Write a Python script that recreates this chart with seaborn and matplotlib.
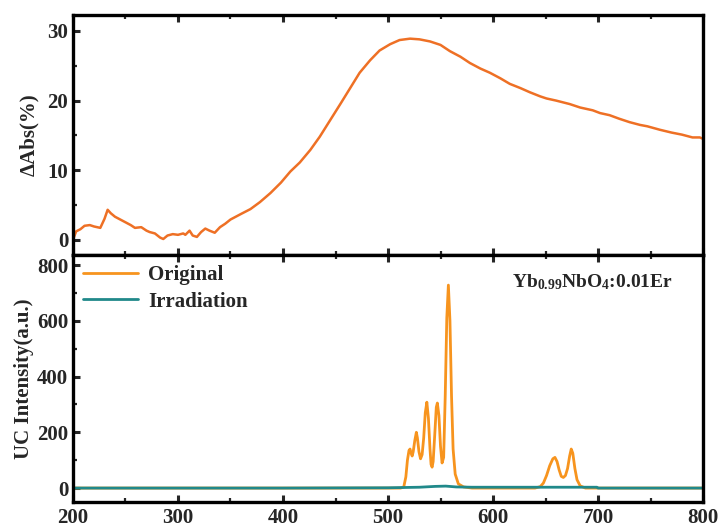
import numpy as np
import pandas as pd
import matplotlib
matplotlib.use("Agg")
import matplotlib.pyplot as plt
from matplotlib.ticker import MultipleLocator
import seaborn as sns

# ---- data ----
abs_wl = [200, 203, 207, 211, 216, 220, 226, 230, 233, 236, 240, 245, 250, 255, 259, 265,
          270, 273, 278, 283, 286, 290, 295, 300, 305, 307, 311, 314, 318, 322, 326, 330,
          335, 340, 345, 350, 360, 369, 378, 388, 398, 407, 416, 426, 435, 445, 455, 464,
          473, 483, 492, 502, 511, 521, 530, 540, 550, 559, 569, 578, 588, 597, 607, 616,
          626, 635, 645, 651, 660, 673, 683, 695, 702, 711, 720, 730, 740, 747, 759, 770,
          780, 790, 797, 800]
abs_val = [0.0, 1.2, 1.5, 2.0, 2.1, 1.9, 1.7, 3.0, 4.3, 3.8, 3.3, 2.9, 2.5, 2.1, 1.7, 1.8,
           1.3, 1.1, 0.9, 0.3, 0.1, 0.6, 0.8, 0.7, 0.9, 0.7, 1.3, 0.6, 0.4, 1.1, 1.6, 1.3,
           1.0, 1.8, 2.3, 2.9, 3.7, 4.4, 5.4, 6.7, 8.2, 9.8, 11.1, 12.9, 14.8, 17.2, 19.6, 21.8,
           24.0, 25.8, 27.2, 28.1, 28.7, 28.9, 28.8, 28.5, 28.0, 27.1, 26.3, 25.4, 24.6, 24.0, 23.2, 22.4,
           21.8, 21.2, 20.6, 20.3, 20.0, 19.5, 19.0, 18.6, 18.2, 17.9, 17.4, 16.9, 16.5, 16.3, 15.8, 15.4,
           15.1, 14.7, 14.7, 14.5]

uc_wl = [200, 300, 400, 500, 512, 515, 517, 518.5, 520, 521, 522, 523, 524, 525.5, 527, 528, 529.5,
         531, 532.5, 534, 535.5, 537, 538.5, 540, 541, 542, 543, 544.5, 546, 547, 548.5, 550,
         551.5, 553, 554.5, 556, 557.5, 559, 560.5, 562, 564, 567, 572, 580, 600, 640, 645,
         648, 651, 654, 657, 659, 661, 663, 665, 667, 669, 671, 673, 674.5, 676, 678, 680, 683,
         688, 700, 800]
uc_orig = [0, 0, 0, 0, 0, 4, 40, 100, 135, 140, 125, 115, 130, 170, 200, 180, 130,
           105, 120, 180, 270, 308, 250, 140, 85, 75, 95, 190, 290, 305, 260, 150,
           90, 110, 330, 610, 728, 600, 330, 140, 50, 15, 4, 0, 0, 0, 5,
           18, 45, 80, 105, 110, 95, 65, 42, 38, 45, 70, 115, 140, 125, 70, 30, 8,
           0, 0, 0]

irr_wl = [200, 300, 400, 500, 530, 545, 555, 565, 580, 620, 660, 699, 700, 800]
irr_val = [0, 0, 0, 1, 3, 6, 7, 4, 3, 3, 3, 3, 0, 0]

# ---- style ----
sns.set_style("ticks")
plt.rcParams["font.family"] = ["Liberation Serif", "DejaVu Serif"]
plt.rcParams["font.weight"] = "bold"
plt.rcParams["axes.labelweight"] = "bold"
plt.rcParams["mathtext.fontset"] = "custom"
plt.rcParams["mathtext.rm"] = "Liberation Serif"
plt.rcParams["mathtext.bf"] = "Liberation Serif:bold"
plt.rcParams["mathtext.it"] = "Liberation Serif:italic"

ORANGE_TOP = "#EE7025"
ORANGE = "#F7941E"
TEAL = "#20898A"

fig = plt.figure(figsize=(7.21, 5.29), dpi=100)
left, right = 73 / 721, 703 / 721
ax1 = fig.add_axes([left, 1 - 255 / 529, right - left, (255 - 15) / 529])
ax2 = fig.add_axes([left, 1 - 502 / 529, right - left, (502 - 255) / 529], sharex=ax1)

df_abs = pd.DataFrame({"wl": abs_wl, "val": abs_val})
sns.lineplot(data=df_abs, x="wl", y="val", ax=ax1, color=ORANGE_TOP, lw=1.8)

df_o = pd.DataFrame({"wl": uc_wl, "val": uc_orig})
df_i = pd.DataFrame({"wl": irr_wl, "val": irr_val})
sns.lineplot(data=df_o, x="wl", y="val", ax=ax2, color=ORANGE, lw=2.0, label="Original")
sns.lineplot(data=df_i, x="wl", y="val", ax=ax2, color=TEAL, lw=2.0, label="Irradiation")

ax1.set_xlim(200, 800)
ax1.set_ylim(-2.2, 32.3)
ax2.set_ylim(-50, 836)

ax1.yaxis.set_major_locator(MultipleLocator(10))
ax1.yaxis.set_minor_locator(MultipleLocator(5))
ax2.yaxis.set_major_locator(MultipleLocator(200))
ax2.yaxis.set_minor_locator(MultipleLocator(100))
ax2.xaxis.set_major_locator(MultipleLocator(100))
ax2.xaxis.set_minor_locator(MultipleLocator(50))

for ax in (ax1, ax2):
    for s in ax.spines.values():
        s.set_linewidth(2.4)
        s.set_color("black")
        s.set_visible(True)
    ax.tick_params(which="major", direction="in", length=5, width=2.2, labelsize=15,
                   top=True, right=False)
    ax.tick_params(which="minor", direction="in", length=3, width=1.6, top=True, right=False)
    ax.set_xlabel("")
    for lab in ax.get_xticklabels() + ax.get_yticklabels():
        lab.set_fontweight("bold")

ax1.tick_params(labelbottom=False)
ax1.set_ylabel("ΔAbs(%)", fontsize=15, fontweight="bold", labelpad=6)
ax2.set_ylabel("UC Intensity(a.u.)", fontsize=15, fontweight="bold", labelpad=2)
ax2.tick_params(axis="x", pad=4)

leg = ax2.legend(loc="upper left", frameon=False, handlelength=2.6,
                 borderaxespad=0.1, handletextpad=0.5, labelspacing=0.3,
                 prop={"weight": "bold", "size": 15})

ax2.text(0.825, 0.89, r"Yb$_{\mathrm{0.99}}$NbO$_{\mathrm{4}}$:0.01Er", transform=ax2.transAxes,
         ha="center", va="center", fontsize=14, fontweight="bold")

fig.savefig("out.png", dpi=100)
